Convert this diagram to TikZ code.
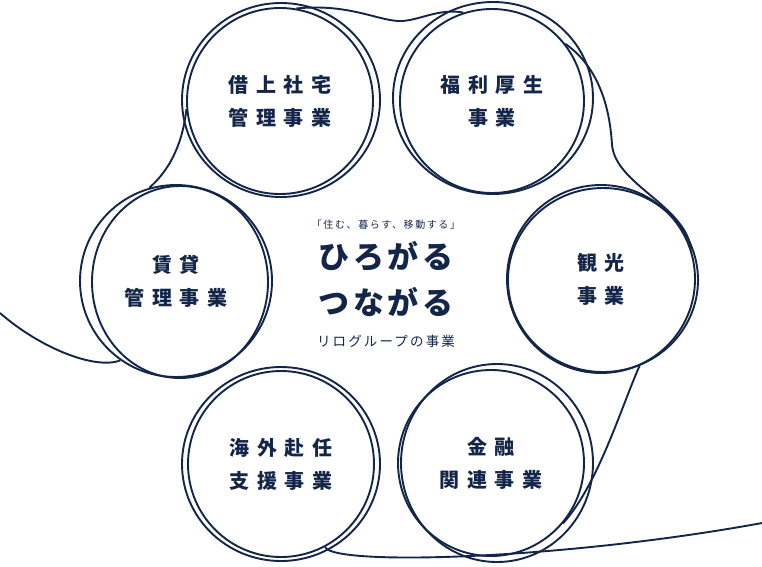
\documentclass[tikz,border=0pt]{standalone}
\usepackage{fontspec}
\newfontfamily\jpbiz{Noto Sans CJK JP}[LetterSpace=37]
\newfontfamily\jptitle{Noto Sans CJK JP}[LetterSpace=12]
\newfontfamily\jpsmall{Noto Sans CJK JP}[LetterSpace=16]
\usepackage{xcolor}
\definecolor{ink}{HTML}{13264A}
\usetikzlibrary{calc}

\begin{document}
\begin{tikzpicture}[
    x=1pt, y=-1pt,
    thread/.style={draw=ink, line width=1.9pt},
    biz/.style={circle, thread, minimum size=#1, inner sep=0pt, align=center, text=ink,
        font=\jpbiz\bfseries\fontsize{20}{33}\selectfont},
    biz/.default=186pt,
    copy/.style={text=ink, inner sep=0pt, align=center}
    ]
    \useasboundingbox (0,0) rectangle (762,566);

    % business circles
    \node[biz] (shataku) at (280,101) {借上社宅\\管理事業};
    \node[biz=184pt] (fukuri) at (492,101) {福利厚生\\事業};
    \node[biz=188pt] (kanko) at (601,279) {観光\\事業};
    \node[biz] (kinyu) at (491,463) {金融\\関連事業};
    \node[biz] (kaigai) at (281,464) {海外赴任\\支援事業};
    \node[biz=192pt] (chintai) at (176,281) {賃貸\\管理事業};

    % second strokes
    \draw[thread] ([shift={(1,-1)}]shataku.center) ellipse [x radius=99, y radius=97];
    \draw[thread] ([shift={(1,-3)}]fukuri.center) ellipse [x radius=100, y radius=96];
    \draw[thread] ([shift={(2,1)}]kanko.center) ellipse [x radius=95, y radius=92];
    \draw[thread] ([shift={(6,0)}]kinyu.center) ellipse [x radius=96, y radius=99];
    \draw[thread] (kaigai.center) ellipse [x radius=99, y radius=97];
    \draw[thread] ([shift={(4,1)}]chintai.center) ellipse [x radius=88, y radius=96];

    % centre copy
    \node[copy, font=\jpsmall\fontsize{10}{12}\selectfont] (tagline) at (386,225) {「住む、暮らす、移動する」};
    \node[copy, font=\jptitle\bfseries\fontsize{31}{46}\selectfont] (title) at (386,279) {ひろがる\\つながる};
    \node[copy, font=\jpsmall\fontsize{13.5}{16}\selectfont] (group) at (386,341) {リログループの事業};

    % the thread
    \coordinate (lstart) at (0,313);
    \coordinate (rend) at (762,523);
    \draw[thread] (lstart) .. controls (40,348) and (95,370) .. (chintai.235);
    \draw[thread] (chintai.106) .. controls (172,168) and (183,140) .. (shataku.185);
    \draw[thread] (shataku.80) .. controls (350,3) and (380,22) .. (402,21)
        .. controls (420,20) and (440,8) .. (fukuri.108);
    \draw[thread] (fukuri.38) .. controls (600,68) and (610,110) .. (612,145)
        .. controls (616,185) and (685,205) .. (kanko.18);
    \draw[thread] (kanko.-66) .. controls (622,405) and (598,485) .. (kinyu.-40);
    \draw[thread] (kaigai.-62) .. controls (332,566) and (560,560) .. (rend);
\end{tikzpicture}
\end{document}
